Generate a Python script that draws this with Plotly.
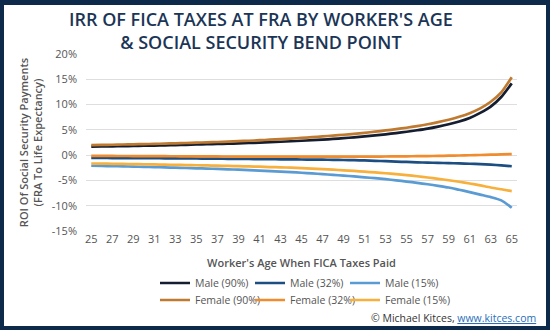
import plotly.graph_objects as go

ages = list(range(25, 66))

male_90 = [1.70, 1.72, 1.75, 1.78, 1.82, 1.86, 1.90, 1.95, 2.00, 2.05,
           2.10, 2.15, 2.20, 2.25, 2.32, 2.40, 2.48, 2.56, 2.65, 2.75,
           2.85, 2.95, 3.07, 3.20, 3.35, 3.52, 3.70, 3.90, 4.12, 4.36,
           4.62, 4.92, 5.25, 5.65, 6.10, 6.65, 7.35, 8.35, 9.60, 11.50, 14.2]
male_32 = [-0.55, -0.56, -0.57, -0.58, -0.59, -0.60, -0.61, -0.62, -0.63, -0.65,
           -0.66, -0.68, -0.70, -0.72, -0.74, -0.76, -0.78, -0.80, -0.82, -0.84,
           -0.86, -0.88, -0.90, -0.93, -0.96, -1.00, -1.05, -1.12, -1.20, -1.28,
           -1.35, -1.42, -1.48, -1.53, -1.58, -1.63, -1.70, -1.78, -1.88, -2.02, -2.2]
male_15 = [-2.10, -2.14, -2.18, -2.22, -2.27, -2.32, -2.37, -2.42, -2.48, -2.54,
           -2.60, -2.66, -2.73, -2.80, -2.88, -2.96, -3.05, -3.15, -3.25, -3.36,
           -3.48, -3.61, -3.75, -3.90, -4.05, -4.21, -4.38, -4.56, -4.76, -4.98,
           -5.22, -5.48, -5.76, -6.06, -6.40, -6.85, -7.30, -7.80, -8.30, -8.95, -10.4]
female_90 = [2.00, 2.03, 2.06, 2.10, 2.14, 2.18, 2.23, 2.28, 2.34, 2.40,
             2.46, 2.53, 2.60, 2.68, 2.76, 2.85, 2.95, 3.05, 3.16, 3.28,
             3.41, 3.55, 3.70, 3.86, 4.03, 4.22, 4.42, 4.64, 4.88, 5.14,
             5.42, 5.74, 6.10, 6.52, 7.00, 7.58, 8.30, 9.25, 10.55, 12.40, 15.4]
female_32 = [-0.15, -0.15, -0.16, -0.17, -0.18, -0.19, -0.20, -0.21, -0.22, -0.23,
             -0.24, -0.25, -0.26, -0.27, -0.28, -0.29, -0.30, -0.30, -0.31, -0.31,
             -0.31, -0.31, -0.31, -0.31, -0.30, -0.30, -0.29, -0.28, -0.27, -0.25,
             -0.23, -0.21, -0.18, -0.15, -0.11, -0.07, -0.02, 0.03, 0.09, 0.15, 0.20]
female_15 = [-1.65, -1.68, -1.71, -1.74, -1.77, -1.80, -1.84, -1.88, -1.92, -1.96,
             -2.00, -2.04, -2.08, -2.13, -2.18, -2.23, -2.29, -2.35, -2.41, -2.48,
             -2.55, -2.65, -2.76, -2.88, -3.00, -3.13, -3.27, -3.42, -3.58, -3.76,
             -3.96, -4.18, -4.42, -4.68, -4.96, -5.26, -5.60, -5.98, -6.40, -6.75, -7.10]

y_ticks = [20, 15, 10, 5, 0, -5, -10, -15]
y_ticklabels = ["20%", "15%", "10%", "5%", "0%", "-5%", "-10%", "-15%"]

title_text = "IRR OF FICA TAXES AT FRA BY WORKER'S AGE<br>&amp; SOCIAL SECURITY BEND POINT"

# name, values, colour, legend id, legend column-left px, legend row px
series = [
    ("Male (90%)", male_90, "#141e30", "legend", 155, 283),
    ("Male (32%)", male_32, "#1d4e82", "legend2", 250, 283),
    ("Male (15%)", male_15, "#5a9bd4", "legend3", 345, 283),
    ("Female (90%)", female_90, "#c07a30", "legend4", 155, 300),
    ("Female (32%)", female_32, "#f08c2e", "legend5", 250, 300),
    ("Female (15%)", female_15, "#f7b03c", "legend6", 345, 300),
]

FONT = "Open Sans"
W, H = 550, 330
L, R, T, B = 86, 33, 54, 99
PW, PH = W - L - R, H - T - B

def px_x(p):
    return (p - L) / PW

def px_y(p):
    return (H - B - p) / PH

fig = go.Figure()
legends = {}
for name, vals, color, lg, lx, ly in series:
    fig.add_trace(go.Scatter(
        x=ages, y=vals, mode="lines", name=name,
        line=dict(color=color, width=2.7, shape="spline", smoothing=0.6),
        legend=lg,
    ))
    legends[lg] = dict(orientation="h", x=px_x(lx), xanchor="left",
                       y=px_y(ly), yanchor="middle",
                       font=dict(size=10.5, color="#555555"),
                       bgcolor="rgba(0,0,0,0)")

NAVY = "#0e2a4b"
shapes = []
for (x0, x1, y0, y1) in [(0, 4, 0, H), (546, W, 0, H), (0, W, 0, 5), (0, W, 326, H)]:
    shapes.append(dict(type="rect", xref="paper", yref="paper",
                       x0=px_x(x0), x1=px_x(x1), y0=px_y(y1), y1=px_y(y0),
                       fillcolor=NAVY, line=dict(width=0), layer="above"))

annotations = [
    dict(text=title_text, xref="paper", yref="paper", x=px_x(261), y=px_y(31),
         xanchor="center", yanchor="middle", showarrow=False, align="center",
         font=dict(family=FONT, size=18, color="#1b3556", weight=600)),
    dict(text="© Michael Kitces, <span style='color:#2a6ebb'><u>www.kitces.com</u></span>",
         xref="paper", yref="paper", x=px_x(538), y=px_y(318),
         xanchor="right", yanchor="middle", showarrow=False,
         font=dict(size=10.5, color="#333333")),
]

fig.update_layout(
    width=W, height=H,
    margin=dict(l=L, r=R, t=T, b=B),
    paper_bgcolor="white", plot_bgcolor="white",
    font=dict(family=FONT, color="#555555", size=11),
    xaxis=dict(
        range=[24.5, 65.5], tickmode="array", tickvals=ages[::2],
        ticktext=[str(a) for a in ages[::2]],
        showgrid=False, zeroline=False, showline=False, ticks="",
        tickfont=dict(size=11, color="#555555"),
        title=dict(text="Worker's Age When FICA Taxes Paid",
                   font=dict(size=11, color="#555555", weight=600), standoff=14),
    ),
    yaxis=dict(
        range=[-15, 20], tickmode="array", tickvals=y_ticks, ticktext=y_ticklabels,
        showgrid=True, gridcolor="#dedede", gridwidth=1,
        zeroline=False, showline=False, ticks="", ticklabelstandoff=8,
        tickfont=dict(size=11, color="#555555"),
        title=dict(text="ROI Of Social Security Payments<br>(FRA To Life Expectancy)",
                   font=dict(size=11, color="#555555", weight=600), standoff=6),
    ),
    shapes=shapes,
    annotations=annotations,
    showlegend=True,
    **legends,
)

fig.write_html("out.html")
